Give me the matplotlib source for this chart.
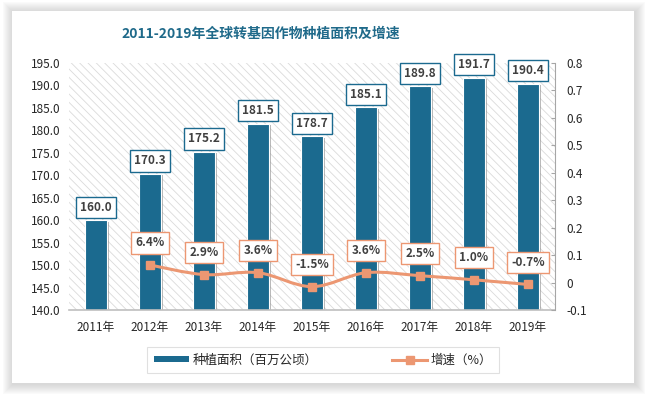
import numpy as np
import matplotlib
matplotlib.use("Agg")
import matplotlib.pyplot as plt
from matplotlib.patches import Rectangle
from matplotlib.path import Path
from matplotlib.patches import PathPatch
from matplotlib.lines import Line2D
import matplotlib.patheffects as pe

plt.rcParams['font.family'] = ['Noto Sans CJK SC', 'DejaVu Sans']
plt.rcParams['hatch.color'] = '#DADADA'
plt.rcParams['hatch.linewidth'] = 0.6

# data
years = ['2011年', '2012年', '2013年', '2014年', '2015年', '2016年', '2017年', '2018年', '2019年']
area = [160.0, 170.3, 175.2, 181.5, 178.7, 185.1, 189.8, 191.7, 190.4]
growth_years = years[1:]
growth = [0.064, 0.029, 0.036, -0.015, 0.036, 0.025, 0.010, -0.007]
growth_labels = ['6.4%', '2.9%', '3.6%', '-1.5%', '3.6%', '2.5%', '1.0%', '-0.7%']

bar_color = '#1B6A8F'
line_color = '#EC9772'
text_color = '#262626'

W, H = 648, 394
fig = plt.figure(figsize=(6.48, 3.94), dpi=100)
fig.patch.set_facecolor('white')

# soft shadow around the white card
cx0, cy0, cx1, cy1 = 12, 11, 634, 383
for k in range(10, 0, -1):
    fig.patches.append(Rectangle(((cx0 - k + 1) / W, 1 - (cy1 + k + 1) / H),
                                 (cx1 - cx0 + 2 * k) / W, (cy1 - cy0 + 2 * k) / H,
                                 transform=fig.transFigure, facecolor='#A0A0A0',
                                 edgecolor='none', alpha=0.045, zorder=-3))
fig.patches.append(Rectangle((cx0 / W, 1 - cy1 / H), (cx1 - cx0) / W, (cy1 - cy0) / H,
                             transform=fig.transFigure, facecolor='white',
                             edgecolor='none', zorder=-2))

ax = fig.add_axes([69 / W, 1 - 310 / H, 486 / W, 247 / H])
ax.set_facecolor('white')
ax.patch.set_hatch('\\\\\\\\')
ax.patch.set_edgecolor('#DADADA')
ax.patch.set_linewidth(0)

x = np.arange(len(years))
bars = ax.bar(x, area, width=0.4, color=bar_color, edgecolor='white',
              linewidth=0.8, zorder=2)
for b in bars:
    b.set_path_effects([pe.SimplePatchShadow(offset=(1.5, -1), shadow_rgbFace='#888888', alpha=0.6),
                        pe.Normal()])

ax.set_ylim(140, 195)
ax.set_xlim(-0.5, len(years) - 0.5)
ax.set_yticks(np.arange(140, 196, 5))
ax.set_yticklabels([f'{v:.1f}' for v in np.arange(140, 196, 5)])
ax.set_xticks(x)
ax.set_xticklabels(years)
ax.tick_params(axis='both', length=0, labelsize=8.5, labelcolor=text_color)
ax.tick_params(axis='x', pad=8)
ax.tick_params(axis='y', pad=6)
for s in ['top', 'right', 'left']:
    ax.spines[s].set_visible(False)
ax.spines['bottom'].set_color('#BFBFBF')
ax.spines['bottom'].set_linewidth(1.2)

for xi, v in zip(x, area):
    ax.annotate(f'{v:.1f}', (xi, v), xytext=(0, 13), textcoords='offset pixels',
                ha='center', va='center', fontsize=8.5, fontweight='bold', color='#404040',
                bbox=dict(boxstyle='square,pad=0.35', facecolor='white', edgecolor=bar_color, linewidth=1),
                zorder=5)

ax2 = ax.twinx()
ax2.set_ylim(-0.1, 0.8)
rt = np.round(np.arange(-0.1, 0.81, 0.1), 1)
ax2.set_yticks(rt)
ax2.set_yticklabels(['0' if t == 0 else f'{t:.1f}' for t in rt])
ax2.tick_params(axis='y', direction='in', length=3, color='#A6A6A6', labelsize=8.5,
                labelcolor=text_color, pad=8)
for s in ['top', 'left', 'bottom']:
    ax2.spines[s].set_visible(False)
ax2.spines['right'].set_color('#A6A6A6')

# smooth line through the points (Catmull-Rom drawn as cubic bezier)
gx = x[1:].astype(float)
pts = np.column_stack([gx, growth])
disp = ax2.transData.transform(pts)
verts = [tuple(disp[0])]
codes = [Path.MOVETO]
n = len(disp)
for i in range(n - 1):
    p0 = disp[max(i - 1, 0)]
    p1 = disp[i]
    p2 = disp[i + 1]
    p3 = disp[min(i + 2, n - 1)]
    c1 = p1 + (p2 - p0) / 6
    c2 = p2 - (p3 - p1) / 6
    verts += [tuple(c1), tuple(c2), tuple(p2)]
    codes += [Path.CURVE4] * 3
curve = PathPatch(Path(verts, codes), transform=None, facecolor='none',
                  edgecolor=line_color, linewidth=2.2, zorder=3)
ax2.add_artist(curve)
ax2.plot(gx, growth, linestyle='none', marker='s', markersize=6, color=line_color, zorder=4)

for xi, v, lab in zip(gx, growth, growth_labels):
    ax2.annotate(lab, (xi, v), xytext=(0, 22), textcoords='offset pixels',
                 ha='center', va='center', fontsize=8.5, fontweight='bold', color='#404040',
                 bbox=dict(boxstyle='square,pad=0.35', facecolor='white', edgecolor=line_color, linewidth=1),
                 zorder=5)

fig.text(261 / W, 1 - 34 / H, '2011-2019年全球转基因作物种植面积及增速', ha='center', va='center',
         fontsize=10, fontweight='bold', color='#1F6A8A')

handles = [Rectangle((0, 0), 1, 1, facecolor=bar_color, edgecolor='none'),
           Line2D([0], [0], color=line_color, linewidth=2.2, marker='s', markersize=6)]
leg = fig.legend(handles, ['种植面积（百万公顷）', '增速（%）'], loc='center',
                 bbox_to_anchor=(323 / W, 1 - 360 / H), ncol=2, fontsize=9,
                 frameon=True, fancybox=False, edgecolor='#D9D9D9', columnspacing=6,
                 handlelength=2.8, handleheight=0.4, borderpad=0.5, handletextpad=0.3)
leg.get_frame().set_linewidth(0.8)
for t in leg.get_texts():
    t.set_color(text_color)

fig.savefig('out.png', dpi=100)
